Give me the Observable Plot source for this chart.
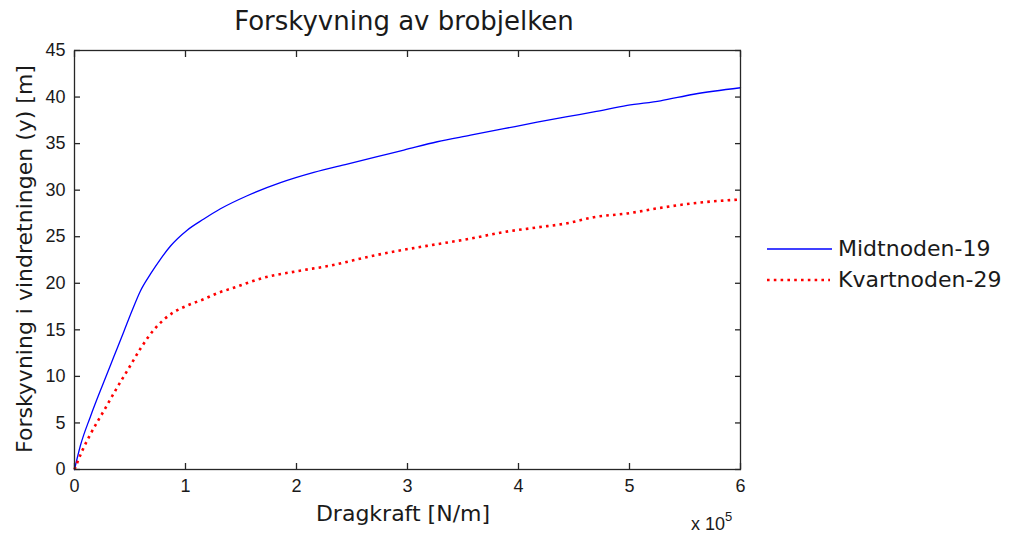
<!DOCTYPE html>
<html>
<head>
<meta charset="utf-8">
<script src="https://cdn.jsdelivr.net/npm/d3@7"></script>
<script src="https://cdn.jsdelivr.net/npm/@observablehq/plot@0.6"></script>
<style>
  html, body { margin: 0; padding: 0; background: #fff; }
  #wrap { position: relative; width: 1016px; height: 533px; overflow: hidden; }
  #chart > svg { position: absolute; left: 0; top: 0; }
  .lbl { position: absolute; font-family: "DejaVu Sans", Verdana, sans-serif; color: #1a1a1a; white-space: nowrap; }
  #title { font-size: 26px; left: 404px; top: 6px; transform: translateX(-50%); }
  #xlabel { font-size: 22px; left: 403px; top: 501px; transform: translateX(-50%); }
  #ylabel { font-size: 22px; left: 24px; top: 259px; transform: translate(-50%, -50%) rotate(-90deg); }
  #exp { position: absolute; font-family: "Liberation Sans", Arial, sans-serif; font-size: 18px; color: #1a1a1a; left: 691px; top: 511px; white-space: nowrap; }
  #exp sup { font-size: 13px; position: relative; top: -2px; }
  #legend { position: absolute; left: 767px; top: 233px; font-family: "DejaVu Sans", Verdana, sans-serif; font-size: 22px; color: #1a1a1a; }
  .row { display: flex; align-items: center; height: 31px; }
  .row svg { display: block; margin-right: 6px; }
</style>
</head>
<body>
<div id="wrap">
  <div id="chart"></div>
  <div id="title" class="lbl">Forskyvning av brobjelken</div>
  <div id="xlabel" class="lbl">Dragkraft [N/m]</div>
  <div id="ylabel" class="lbl">Forskyvning i vindretningen (y) [m]</div>
  <div id="exp">x 10<sup>5</sup></div>
  <div id="legend"></div>
</div>
<script>
// Series names
const seriesNames = ["Midtnoden-19", "Kvartnoden-29"];
const seriesColors = ["#0000ff", "#ff0000"];

// Midtnoden-19: dragkraft [N/m] and forskyvning [m]
const midtX = [0, 5400, 14400, 26400, 35400, 44400, 52000, 59500, 68500, 77500, 86500, 101500, 116500, 131500, 155600, 185600, 215600, 245700, 272700, 296700, 326800, 356800, 386800, 416800, 443900, 467800, 497900, 527900, 557900, 600000];
const midtY = [0, 2.6, 5.7, 9.4, 12.1, 14.8, 17.1, 19.2, 21.0, 22.6, 24.0, 25.7, 26.9, 28.0, 29.4, 30.8, 31.9, 32.8, 33.6, 34.3, 35.2, 35.9, 36.6, 37.3, 37.9, 38.4, 39.1, 39.6, 40.3, 41.0];

// Kvartnoden-29
const kvartX = [0, 6900, 14400, 26400, 38400, 50500, 59500, 71500, 80500, 89500, 101500, 116500, 130000, 140500, 170500, 200600, 230600, 266700, 296700, 326800, 356800, 386800, 416800, 443900, 467800, 497900, 527900, 557900, 600000];
const kvartY = [0, 2.0, 3.8, 6.3, 8.8, 11.2, 13.0, 15.0, 16.1, 16.9, 17.6, 18.3, 19.0, 19.4, 20.6, 21.3, 21.9, 22.9, 23.6, 24.2, 24.8, 25.5, 26.0, 26.45, 27.1, 27.5, 28.1, 28.6, 29.0];

// Tick values
const xTicks = [0, 100000, 200000, 300000, 400000, 500000, 600000];
const yTicks = [0, 5, 10, 15, 20, 25, 30, 35, 40, 45];

const midt = midtX.map((x, i) => ({x, y: midtY[i]}));
const kvart = kvartX.map((x, i) => ({x, y: kvartY[i]}));

const tickFont = {fontFamily: "Liberation Sans, Arial, sans-serif", fontSize: 18, fill: "#1a1a1a"};

const chart = Plot.plot({
  width: 1016,
  height: 533,
  marginTop: 50,
  marginBottom: 64,
  marginLeft: 74,
  marginRight: 276,
  style: {background: "transparent", overflow: "visible"},
  x: {domain: [0, 600000]},
  y: {domain: [0, 45]},
  marks: [
    Plot.line(midt, {x: "x", y: "y", stroke: seriesColors[0], strokeWidth: 1.3, curve: "monotone-x"}),
    Plot.line(kvart, {x: "x", y: "y", stroke: seriesColors[1], strokeWidth: 2.6, strokeDasharray: "2.6,4.2", strokeLinecap: "butt", curve: "monotone-x"}),
    Plot.frame({stroke: "#262626", strokeWidth: 1.3}),
    Plot.axisX({anchor: "bottom", ticks: xTicks, tickSize: -6, tickPadding: 16, tickFormat: d => d / 100000, label: null, ...tickFont, stroke: "#262626", strokeWidth: 1.3}),
    Plot.axisX({anchor: "top", ticks: xTicks, tickSize: -6, tickFormat: () => "", label: null, stroke: "#262626", strokeWidth: 1.3}),
    Plot.axisY({anchor: "left", ticks: yTicks, tickSize: -6, tickPadding: 15, label: null, ...tickFont, stroke: "#262626", strokeWidth: 1.3}),
    Plot.axisY({anchor: "right", ticks: yTicks, tickSize: -6, tickFormat: () => "", label: null, stroke: "#262626", strokeWidth: 1.3})
  ]
});
document.getElementById("chart").appendChild(chart);

// Legend
const legend = document.getElementById("legend");
seriesNames.forEach((name, i) => {
  const row = document.createElement("div");
  row.className = "row";
  const dashed = i === 1;
  row.innerHTML = `<svg width="65" height="10"><line x1="0" x2="${dashed ? 63 : 65}" y1="5" y2="5" stroke="${seriesColors[i]}" stroke-width="${dashed ? 2.6 : 1.3}" ${dashed ? 'stroke-dasharray="2.6,4.2"' : ''}/></svg><span>${name}</span>`;
  legend.appendChild(row);
});
</script>
</body>
</html>
